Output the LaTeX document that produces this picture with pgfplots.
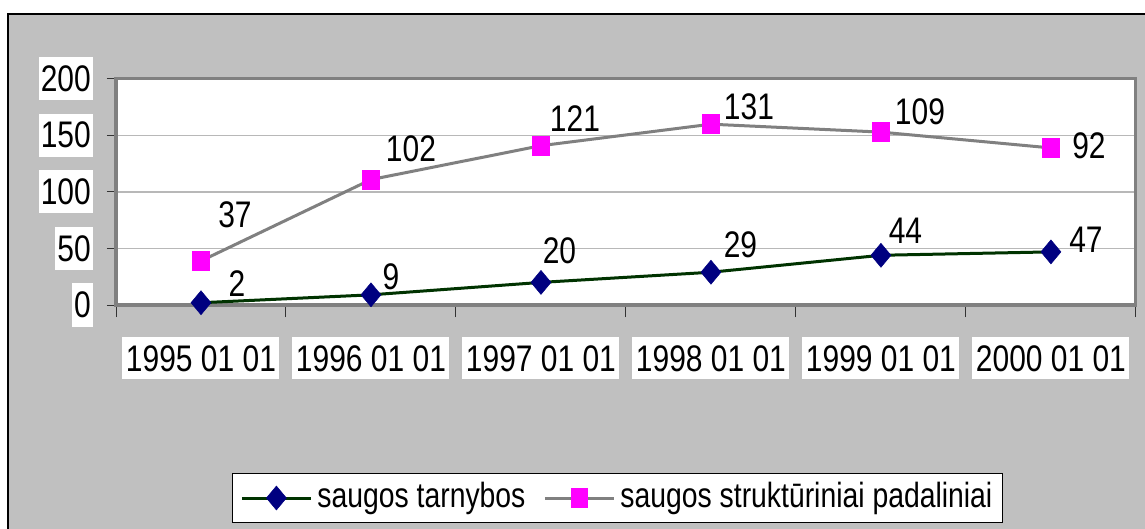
\documentclass[border=0pt]{standalone}
\usepackage{fontspec}
\setmainfont{Liberation Sans}[FakeStretch=0.81]
\usepackage{pgfplots}
\pgfplotsset{compat=1.18}
\usepackage{pgfplotstable}
\definecolor{bg}{HTML}{C0C0C0}
\definecolor{navy}{HTML}{000080}
\definecolor{dgreen}{HTML}{003300}
\definecolor{mag}{HTML}{FF00FF}
\definecolor{lgray}{HTML}{808080}
\definecolor{gridc}{HTML}{B8B8B8}
\newcommand\cf{\fontsize{37bp}{42bp}\selectfont}
\newcommand\lf{\fontsize{35bp}{40bp}\selectfont}

% saugos tarnybos
\pgfplotstableread{
x v dx dy
0 2 36 19.2
1 9 20 18.3
2 20 18.5 31.9
3 29 29.5 27.2
4 44 24.5 24.8
5 47 35 12.4
}\tarn
% saugos strukturiniai padaliniai (stacked on top of saugos tarnybos)
\pgfplotstableread{
x v base dx dy
0 37 2 34 46.4
1 102 9 40 30.6
2 121 20 34 26.7
3 131 29 38 17.2
4 109 44 39 20.6
5 92 47 38 1.9
}\strukt

\begin{document}
\begin{tikzpicture}
\path[use as bounding box] (0bp,0bp) rectangle (1145bp,529bp);
\fill[bg] (8bp,-5bp) rectangle (1150bp,515bp);
\draw[black, line width=1.5bp] (8bp,-5bp) rectangle (1150bp,515bp);
\begin{axis}[
  at={(116bp,224bp)}, anchor=south west,
  scale only axis, width=1020bp, height=226bp,
  xmin=-0.5, xmax=5.5, ymin=0, ymax=200,
  clip=false,
  axis background/.style={fill=white},
  axis line style={draw=lgray, line width=3bp},
  ymajorgrids, major grid style={draw=gridc, line width=1.5bp},
  xtick={0,...,5},
  xticklabels={1995 01 01,1996 01 01,1997 01 01,1998 01 01,1999 01 01,2000 01 01},
  minor xtick={-0.5,0.5,...,5.5},
  major x tick style={draw=none},
  ytick={0,50,...,200},
  tick pos=left,
  tick align=outside,
  tick style={draw=black!80, line width=1bp},
  major tick length=9bp, minor tick length=12bp,
  /pgf/number format/assume math mode=true,
  yticklabel style={fill=white, inner xsep=2bp, inner ysep=0pt, text height=34bp, text depth=9bp, anchor=east, font=\cf, xshift=-14bp},
  xticklabel style={fill=white, inner xsep=3.5bp, inner ysep=0pt, text height=34bp, text depth=8bp, anchor=north, font=\cf, yshift=-23bp},
  legend columns=2,
  legend cell align=left,
  legend image code/.code={\draw[mark repeat=2, mark phase=2, #1] plot coordinates {(0bp,0bp) (34.5bp,0bp) (69bp,0bp)};},
  legend style={at={(0.4916,-0.854)}, anchor=center, draw=black, line width=1bp, fill=white, font=\lf,
    inner xsep=8bp, inner ysep=4bp,
    nodes={inner sep=2bp, text height=28bp, text depth=9bp},
    /tikz/every odd column/.append style={column sep=3bp},
    /tikz/every even column/.append style={column sep=16bp}},
  lbl/.style={nodes near coords, point meta=explicit,
    visualization depends on={\thisrow{dx} \as \dx},
    visualization depends on={\thisrow{dy} \as \dy},
    every node near coord/.append style={anchor=center, xshift=\dx*1bp, yshift=\dy*1bp, font=\cf, text=black, inner sep=0pt}},
]
\addplot[draw=dgreen, line width=3bp, mark=square*, mark size=7.07bp,
  mark options={draw=navy, fill=navy, line width=0.5bp, yscale=1.2, rotate=45}, lbl]
  table[x=x, y=v, meta=v] {\tarn};
\addlegendentry{saugos tarnybos}
\addplot[draw=lgray, line width=3bp, mark=square*, mark size=8.2bp,
  mark options={draw=mag, fill=mag, line width=0.6bp, yscale=1.15}, lbl]
  table[x=x, y expr=\thisrow{v}+\thisrow{base}, meta=v] {\strukt};
\addlegendentry{saugos strukt\=uriniai padaliniai}
\end{axis}
\end{tikzpicture}
\end{document}
